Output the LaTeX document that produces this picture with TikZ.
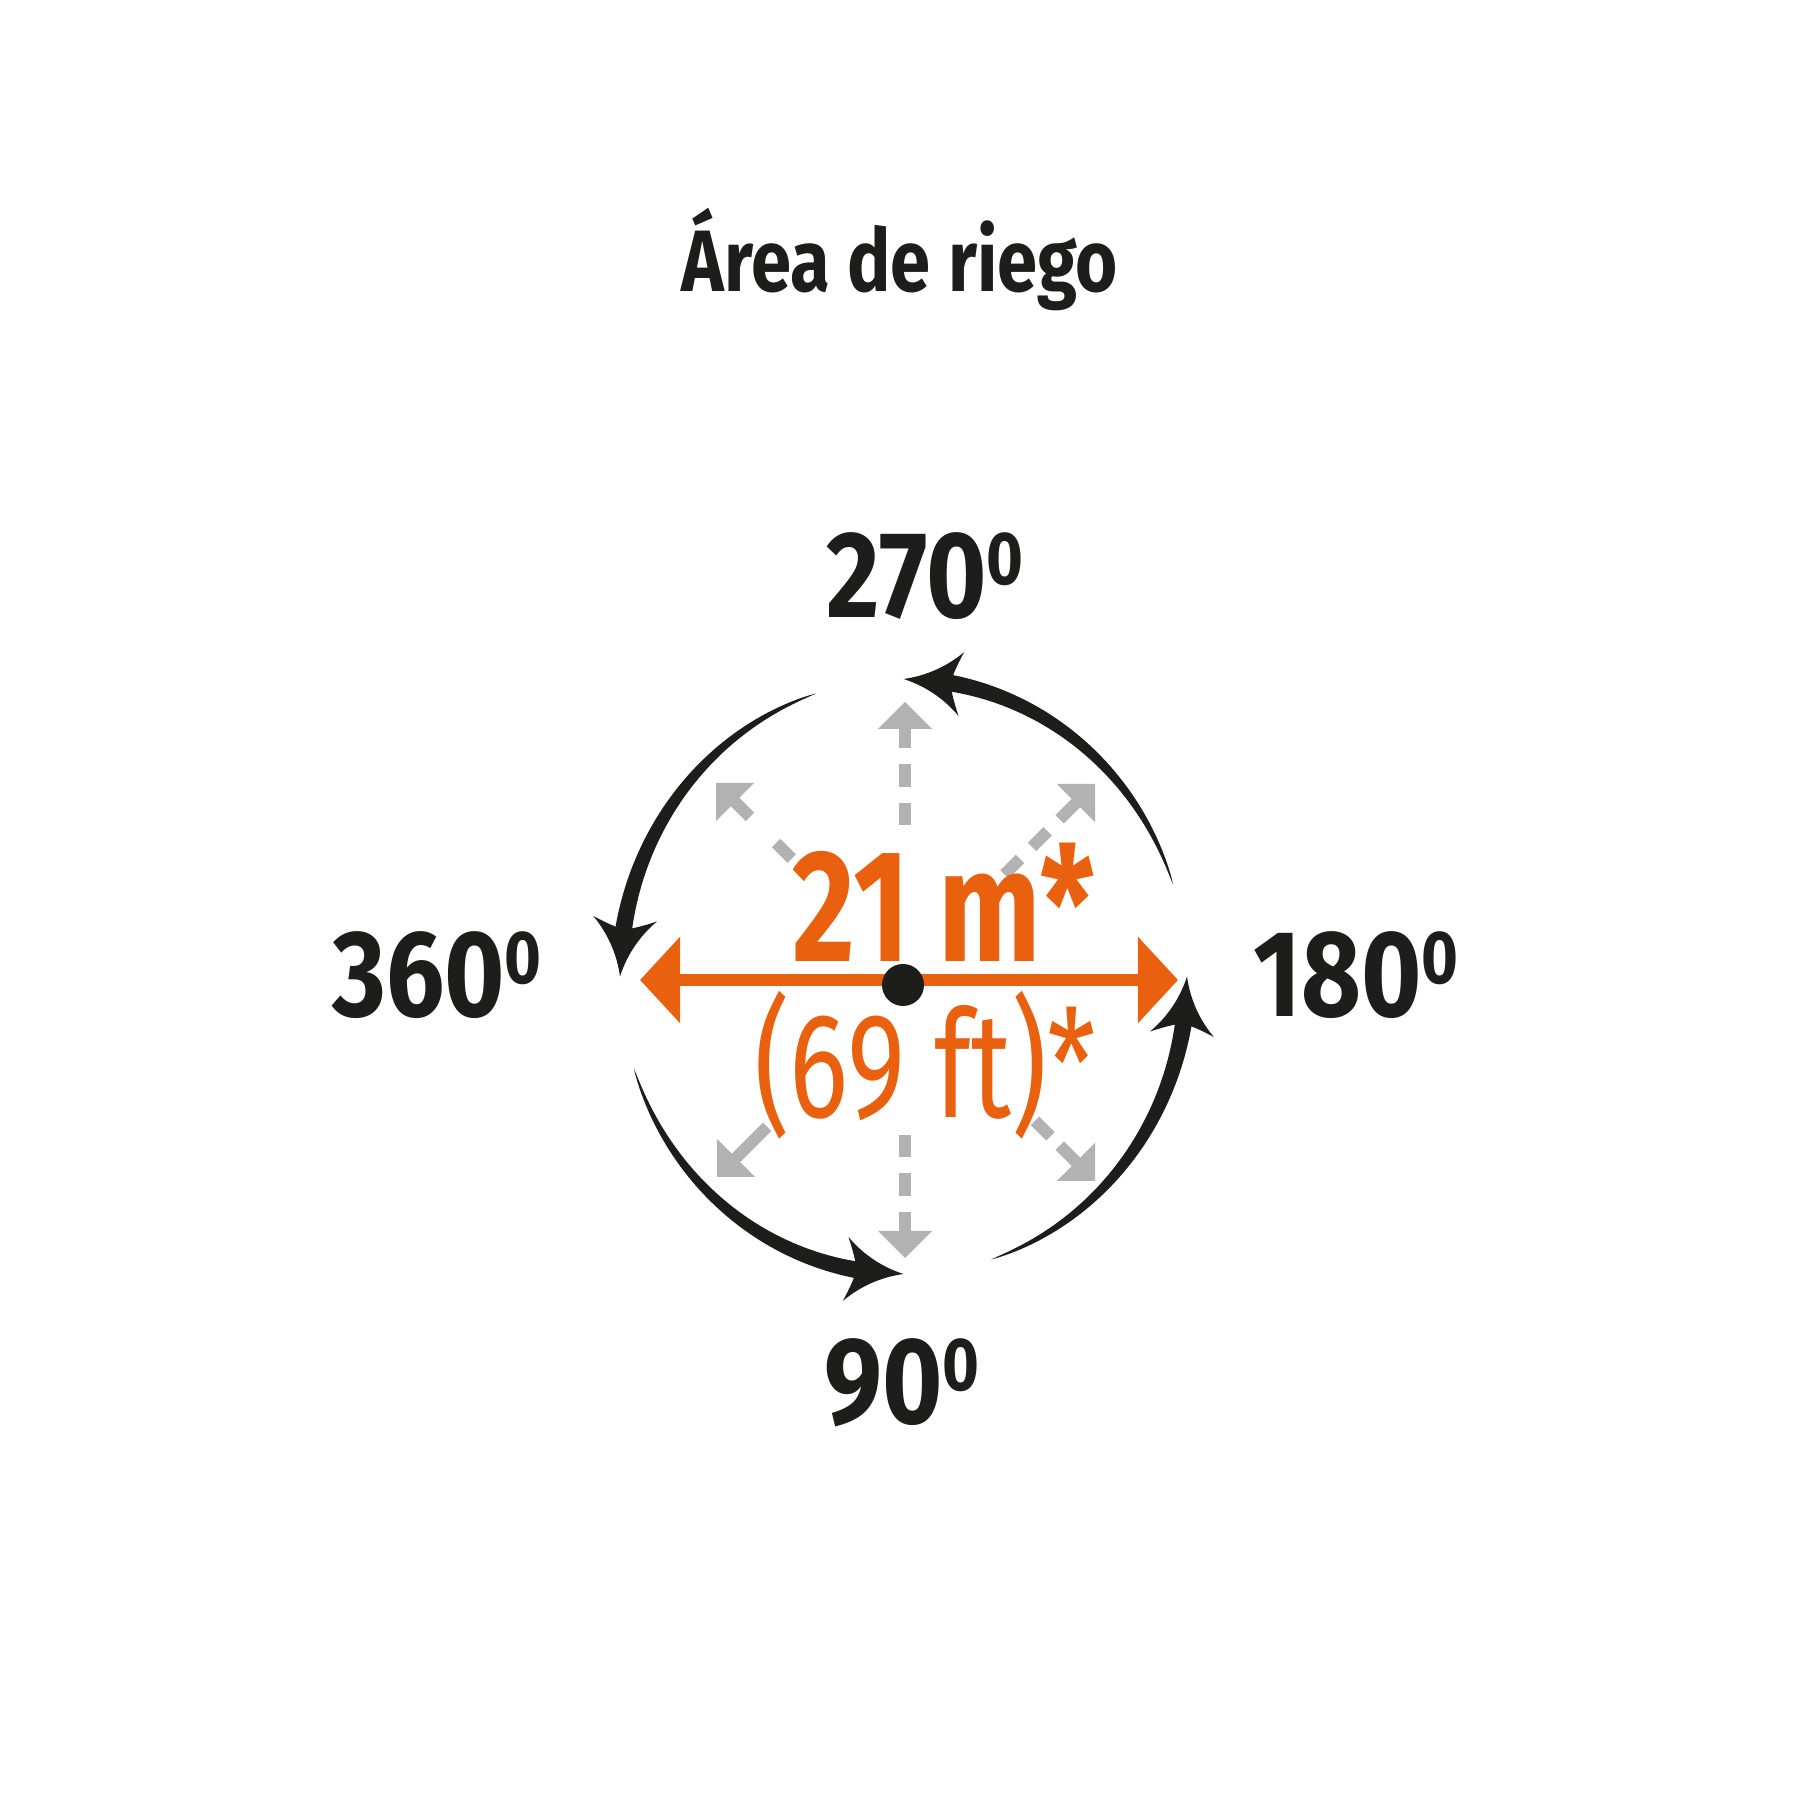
\documentclass[tikz,border=0pt]{standalone}
\usepackage{fontspec}
\usetikzlibrary{arrows.meta}
\setmainfont{Fira Sans}
\newfontfamily\titulo{Fira Sans Bold}[FakeStretch=0.83]
\newfontfamily\cifra{Fira Sans Bold}[FakeStretch=0.84]
\newfontfamily\medida{Fira Sans Bold}[FakeStretch=0.76]
\newfontfamily\medidafina{Fira Sans}[FakeStretch=0.74]
\definecolor{naranja}{HTML}{E9600E}
\definecolor{tinta}{HTML}{1D1D1B}
\definecolor{gris}{HTML}{B2B2B2}
\newcommand{\grado}{\raisebox{0.27em}{\scalebox{0.61}{0}}}
% flecha gris: punta, angulo, tramos {desde/hasta} medidos desde la punta
\newcommand{\rayo}[3]{%
  \begin{scope}[shift={#1}, rotate=#2]
    \fill[gris] (0,0) -- (-27,27) -- (-27,-27) -- cycle;
    \foreach \de/\ha in {#3} \fill[gris] (-\de,-6) rectangle (-\ha,6);
  \end{scope}}
\begin{document}
\begin{tikzpicture}[x=0.01cm, y=0.01cm,
    etiqueta/.style={anchor=base, inner sep=0, text=tinta, font=\cifra\fontsize{35}{40}\selectfont}]
  \useasboundingbox (0,0) rectangle (1800,1800);

  % flechas grises
  \rayo{(905,1098)}{90}{26/46,62/85,101/123}
  \rayo{(905,542)}{270}{26/46,62/85,101/123}
  \rayo{(1095,1016)}{45}{26/50,67/89,106/128}
  \rayo{(716,1017)}{135}{26/48,85/107}
  \rayo{(717,623)}{225}{26/71}
  \rayo{(1095,619)}{315}{26/50,63/85}

  % arcos negros
  \foreach \ini [evaluate=\ini as \fin using \ini+64,
                 evaluate=\ini as \punta using \ini+72] in {18,108,198,288}{
    \fill[tinta] plot[domain=\ini:\fin, samples=50, variable=\s]
        ({903.5+(283.5+8.5*((\s-\ini)/64)^0.7)*cos(\s)},{823.5+(297.5+8.5*((\s-\ini)/64)^0.7)*sin(\s)})
      -- plot[domain=\fin:\ini, samples=50, variable=\s]
        ({903.5+(283.5-8.5*((\s-\ini)/64)^0.7)*cos(\s)},{823.5+(297.5-8.5*((\s-\ini)/64)^0.7)*sin(\s)})
      -- cycle;
    \fill[tinta, shift={({903.5+283.5*cos(\punta)},{823.5+297.5*sin(\punta)})}, rotate=\punta+85]
      (0,0) .. controls (-22,5) and (-42,16) .. (-58,32)
      .. controls (-52,18) and (-49,9) .. (-47,0)
      .. controls (-49,-9) and (-52,-18) .. (-58,-32)
      .. controls (-42,-16) and (-22,-5) .. (0,0) -- cycle;
  }

  % diametro
  \coordinate (izq) at (640,820);
  \coordinate (der) at (1178,820);
  \draw[naranja, line width=3.41pt,
    {Triangle[length=0.4cm, width=0.84cm]}-{Triangle[length=0.4cm, width=0.84cm]}] (izq) -- (der);
  \node[circle, fill=tinta, minimum size=0.42cm, inner sep=0] (centro) at (903,815) {};

  \node[anchor=base, inner sep=0, text=tinta, font=\titulo\fontsize{24.8}{30}\selectfont] (titulo) at (900,1508) {Área de riego};
  \node[etiqueta] (g270) at (925,1182) {270\grado};
  \node[etiqueta] (g360) at (437,783) {360\grado};
  \node[etiqueta] (g180) at (1356,783) {180\grado};
  \node[etiqueta] (g90) at (902,376) {90\grado};

  \node[anchor=base, inner sep=0, text=naranja, font=\medida\fontsize{45.4}{50}\selectfont] (metros) at (944,838) {21 m*};
  \node[anchor=base, inner sep=0, text=naranja, font=\medidafina\fontsize{42.5}{48}\selectfont] (pies) at (925,682) {(69 ft)*};
\end{tikzpicture}
\end{document}
